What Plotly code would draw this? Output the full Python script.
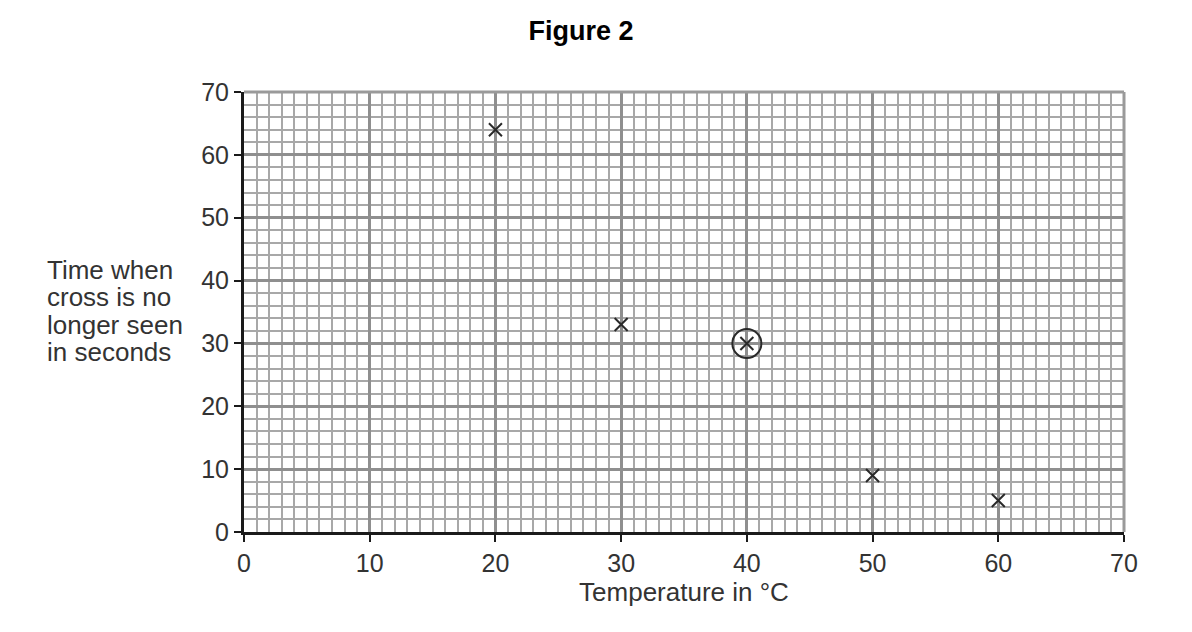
import plotly.graph_objects as go

temperature = [20, 30, 40, 50, 60]
time_seconds = [64, 33, 30, 9, 5]
anomaly_x = [40]
anomaly_y = [30]
tick_vals = [0, 10, 20, 30, 40, 50, 60, 70]
y_title_lines = ["Time when", "cross is no", "longer seen", "in seconds"]

fig = go.Figure()
fig.add_trace(go.Scatter(
    x=temperature, y=time_seconds, mode="markers",
    marker=dict(symbol="x-thin", size=13, line=dict(width=2, color="#2a2a2a"), color="#2a2a2a"),
    showlegend=False, cliponaxis=False))
fig.add_trace(go.Scatter(
    x=anomaly_x, y=anomaly_y, mode="markers",
    marker=dict(symbol="circle-open", size=29, line=dict(width=2, color="#2a2a2a"), color="#2a2a2a"),
    showlegend=False, cliponaxis=False))

font_family = "Liberation Sans, Arial, sans-serif"
fig.update_layout(
    width=1192, height=632,
    margin=dict(l=244, r=68, t=92, b=100),
    paper_bgcolor="white", plot_bgcolor="white",
    font=dict(family=font_family, size=25, color="#333333"),
    title=dict(text="<b>Figure 2</b>", x=0.4875, xanchor="center", y=0.952, yanchor="middle",
               font=dict(size=27, color="#000000")),
    xaxis=dict(range=[0, 70], tickvals=tick_vals, showgrid=True, gridcolor="#8f8f8f", gridwidth=2.5,
               minor=dict(dtick=1, showgrid=True, gridcolor="#a8a8a8", gridwidth=1.5),
               showline=True, linecolor="#1a1a1a", linewidth=3, zeroline=False,
               ticks="outside", ticklen=7, tickwidth=2, tickcolor="#1a1a1a",
               title=dict(text="Temperature in °C", standoff=6, font=dict(size=26))),
    yaxis=dict(range=[0, 70], tickvals=tick_vals, showgrid=True, gridcolor="#8f8f8f", gridwidth=2.5,
               minor=dict(dtick=2, showgrid=True, gridcolor="#a8a8a8", gridwidth=1.5),
               showline=True, linecolor="#1a1a1a", linewidth=3, zeroline=False,
               ticks="outside", ticklen=7, tickwidth=2, tickcolor="#1a1a1a"),
)
line_centers = [270, 297, 325, 352]
for txt, yc in zip(y_title_lines, line_centers):
    fig.add_annotation(text=txt, xref="paper", yref="paper", x=(45 - 244) / 880, xanchor="left",
                       y=(532 - yc) / 440, yanchor="middle", align="left", showarrow=False,
                       font=dict(size=26, color="#333333"))
# gray border lines on top and right
fig.add_shape(type="line", xref="paper", yref="paper", x0=0, x1=1, y0=1, y1=1,
              line=dict(color="#9a9a9a", width=3))
fig.add_shape(type="line", xref="paper", yref="paper", x0=1, x1=1, y0=0, y1=1,
              line=dict(color="#9a9a9a", width=3))
fig.write_html("out.html")
